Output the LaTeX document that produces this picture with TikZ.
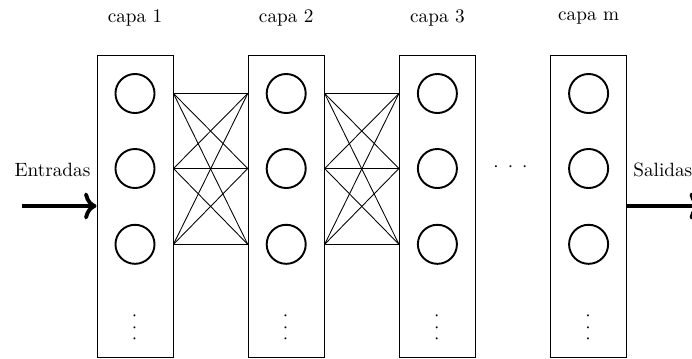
\documentclass[tikz,border=0pt]{standalone}
\usetikzlibrary{arrows.meta}
% dotted ellipses: three centred dots in one line of text
\newcommand\layerdots[1]{\hbox{$\cdot$\kern#1$\cdot$\kern#1$\cdot$}}
\begin{document}
\begin{tikzpicture}[x=0.52pt,y=-0.52pt,
  layerbox/.style={draw, line width=0.5pt, minimum width=39.5pt, minimum height=157.3pt, inner sep=0pt},
  neuron/.style={draw, circle, line width=1pt, minimum size=20.3pt, inner sep=0pt},
  link/.style={line width=0.45pt},
  flow/.style={line width=2pt, -{To[length=6.5pt,width=14pt]}},
  lbl/.style={inner sep=0pt}]
\useasboundingbox (0,0) rectangle (692,358);

% layers: box, title, three neurons and a vertical ellipsis
\foreach \i/\x/\t in {1/135/1, 2/286.2/2, 3/437.4/3, 4/588.6/m} {
  \node[layerbox] (b\i) at (\x,206.25) {};
  \node[lbl] (t\i) at (\x,18) {capa \t};
  \foreach \j/\y in {1/93.5, 2/168.5, 3/244.3}
    \node[neuron] (n\i\j) at (\x,\y) {};
  \node[lbl, rotate=90] (d\i) at (\x,327.5) {\layerdots{3.1pt}};
}

% full connections between consecutive layers
\foreach \i/\k in {1/2, 2/3}
  \foreach \j in {1,2,3}
    \foreach \l in {1,2,3}
      \draw[link] (b\i.east |- n\i\j) -- (b\k.west |- n\k\l);

% ellipsis between layer 3 and layer m
\node[lbl] (gap) at (510.5,167.7) {\layerdots{4.7pt}};

% inputs and outputs
\node[lbl] (ent) at (52.5,169.5) {Entradas};
\node[lbl, anchor=west] (sal) at (633,170) {Salidas};
\coordinate (in) at (21.7,206);
\coordinate (out) at (702,206);
\draw[flow] (in) -- (b1.west |- in);
\draw[flow] (b4.east |- out) -- (out);
\end{tikzpicture}
\end{document}
